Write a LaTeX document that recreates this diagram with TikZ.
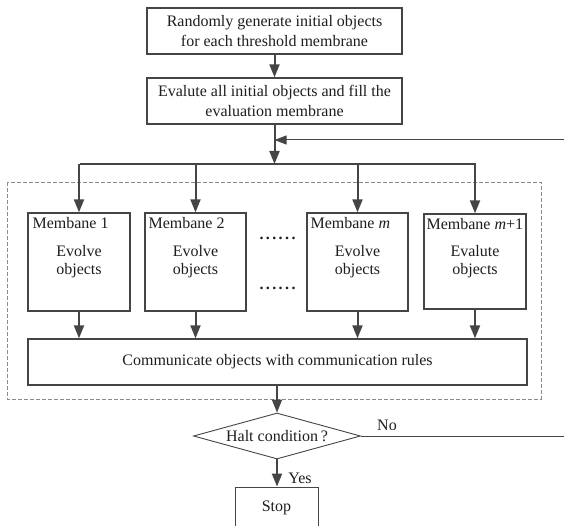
\documentclass[tikz,border=0pt]{standalone}
\usepackage{fontspec}
\setmainfont{Liberation Serif}
\usetikzlibrary{arrows.meta,shapes.geometric}
\definecolor{lc}{HTML}{454545}
\definecolor{tc}{HTML}{1E1E1E}
\definecolor{dc}{HTML}{8A8A8A}
\begin{document}
\begin{tikzpicture}[x=1pt,y=-1pt,
  every node/.style={text=tc, font=\fontsize{16}{20}\selectfont},
  box/.style={draw=lc, line width=1.3pt, fill=white, inner sep=0pt, align=center},
  mbox/.style={box, minimum height=98pt, font=\fontsize{16}{18}\selectfont},
  thinbox/.style={draw=lc, line width=0.9pt, fill=white, inner sep=0pt, align=center},
  mlabel/.style={anchor=north west, inner sep=0pt},
  arr/.style={draw=lc, line width=2pt, -{Triangle[length=13pt,width=10pt]}},
  arrthin/.style={draw=lc, line width=1pt, -{Triangle[length=12pt,width=9pt]}},
  thinline/.style={draw=lc, line width=1pt},
  busline/.style={draw=lc, line width=2.2pt},
  dashbox/.style={draw=dc, line width=0.9pt, dash pattern=on 4pt off 2pt}]
\useasboundingbox (0,0) rectangle (564,526);
\clip (0,0) rectangle (564,526);

% dashed enclosure
\draw[dashbox] (7,182) rectangle (541,399);

% top boxes
\node[box, minimum width=255pt, minimum height=46pt] (b1) at (274.5,31)
  {Randomly generate initial objects\\for each threshold membrane};
\node[box, minimum width=255pt, minimum height=46pt] (b2) at (274.5,101)
  {Evalute all initial objects and fill the\\evaluation membrane};

% bus
\coordinate (busL) at (80,164);
\coordinate (busR) at (476,164);
\coordinate (fbR) at (564,140);
\draw[busline] (busL) -- (busR);

% membranes
\node[mbox, minimum width=102pt] (m1) at (79,262) {Evolve\\objects};
\node[mbox, minimum width=101pt] (m2) at (195.5,262) {Evolve\\objects};
\node[mbox, minimum width=101pt] (m3) at (357.5,262) {Evolve\\objects};
\node[mbox, minimum width=102pt, minimum height=95pt] (m4) at (475,261.5) {Evalute\\objects};

\node[mlabel] (l1) at ([xshift=5pt,yshift=-5pt]m1.north west) {Membane 1};
\node[mlabel] (l2) at ([xshift=4pt,yshift=-5pt]m2.north west) {Membane 2};
\node[mlabel] (l3) at ([xshift=4pt,yshift=-5pt]m3.north west) {Membane \textit{m}};
\node[mlabel] (l4) at ([xshift=3pt,yshift=-5pt]m4.north west) {Membane \textit{m}+1};

% dots
\node[anchor=base, inner sep=0pt] (d1) at (277.5,240) {\textbf{.\hspace{2.4pt}.\hspace{2.4pt}.\hspace{2.4pt}.\hspace{2.4pt}.\hspace{2.4pt}.}};
\node[anchor=base, inner sep=0pt] (d2) at (277.5,290) {\textbf{.\hspace{2.4pt}.\hspace{2.4pt}.\hspace{2.4pt}.\hspace{2.4pt}.\hspace{2.4pt}.}};

% communicate
\node[box, minimum width=499pt, minimum height=46pt] (comm) at (277.5,362)
  {Communicate objects with communication rules};

% decision
\node[thinbox, diamond, aspect=3.6, minimum width=167pt, minimum height=46pt] (dia) at (277,436)
  {Halt condition\,?};
\coordinate (noR) at (564,436);

% stop
\node[thinbox, minimum width=83pt, minimum height=42pt] (stop) at (276.5,508) {Stop};

% labels
\node (no) at (387,425) {No};
\node (yes) at (300,478) {Yes};

% connectors
\draw[arr] (b1) -- (b2);
\draw[arr] (b2.south) -- (b2.south |- busL);
\draw[arrthin] (fbR) -- (fbR -| b2.south);
\foreach \m in {m1,m2,m3,m4}{
  \draw[arr] (\m.north |- busL) -- (\m.north);
  \draw[arr] (\m.south) -- (\m.south |- comm.north);
}
\draw[arr] (comm.south -| dia.north) -- (dia.north);
\draw[arr] (dia.south) -- (stop.north -| dia.south);
\draw[thinline] (dia.east) -- (noR);
\end{tikzpicture}
\end{document}
